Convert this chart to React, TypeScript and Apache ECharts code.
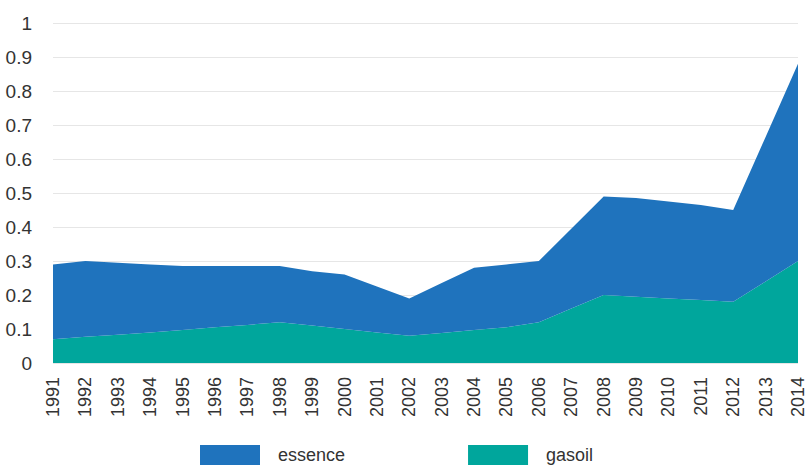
import React, { useEffect, useRef } from "react";
import * as echarts from "echarts";

const years = ["1991","1992","1993","1994","1995","1996","1997","1998","1999","2000","2001","2002","2003","2004","2005","2006","2007","2008","2009","2010","2011","2012","2013","2014"];
const gasoil = [0.07,0.077,0.083,0.09,0.097,0.105,0.112,0.12,0.11,0.10,0.09,0.08,0.088,0.097,0.105,0.12,0.16,0.20,0.195,0.19,0.185,0.18,0.24,0.30];
const essence = [0.22,0.223,0.212,0.20,0.188,0.18,0.173,0.165,0.16,0.16,0.135,0.11,0.147,0.183,0.185,0.18,0.235,0.29,0.29,0.285,0.28,0.27,0.425,0.58];
const yTicks = [0, 1, 0.1];

export default function App() {
  const ref = useRef<HTMLDivElement>(null);
  useEffect(() => {
    const chart = echarts.init(ref.current!, null, { renderer: "svg" });
    const font = "'Liberation Sans', Arial, sans-serif";
    chart.setOption({
      animation: false,
      grid: { left: 53, right: 11, top: 23, bottom: 103, containLabel: false },
      legend: {
        data: ["essence", "gasoil"],
        left: 200,
        top: 445,
        padding: 0,
        itemWidth: 60,
        itemHeight: 20,
        itemGap: 123,
        icon: "rect",
        textStyle: { fontSize: 18, color: "#333", fontFamily: font, padding: [0, 0, 0, 13] },
      },
      xAxis: {
        type: "category",
        data: years,
        boundaryGap: false,
        axisLine: { show: false },
        axisTick: { show: false },
        axisLabel: { rotate: 90, margin: 14, fontSize: 18, color: "#333", fontFamily: font, interval: 0 },
        splitLine: { show: false },
      },
      yAxis: {
        type: "value",
        min: yTicks[0],
        max: yTicks[1],
        interval: yTicks[2],
        axisLine: { show: false },
        axisTick: { show: false },
        axisLabel: { margin: 21, fontSize: 19, color: "#333", fontFamily: font },
        splitLine: { lineStyle: { color: "#e6e6e6", width: 1 } },
      },
      series: [
        {
          name: "gasoil",
          type: "line",
          stack: "total",
          data: gasoil,
          showSymbol: false,
          lineStyle: { width: 0 },
          itemStyle: { color: "#00A69C" },
          areaStyle: { color: "#00A69C", opacity: 1 },
        },
        {
          name: "essence",
          type: "line",
          stack: "total",
          data: essence,
          showSymbol: false,
          lineStyle: { width: 0 },
          itemStyle: { color: "#1F73BD" },
          areaStyle: { color: "#1F73BD", opacity: 1 },
        },
      ],
    });
    return () => chart.dispose();
  }, []);
  return <div ref={ref} style={{ width: 809, height: 466, position: "absolute", left: 0, top: 0 }} />;
}
